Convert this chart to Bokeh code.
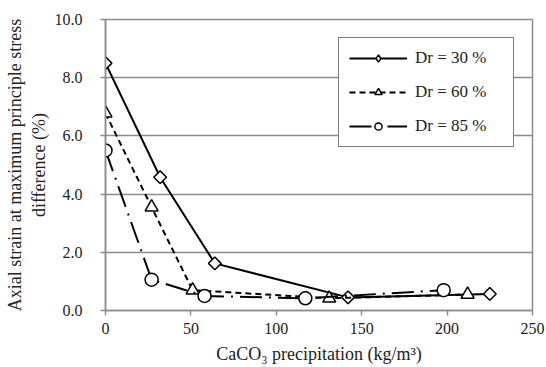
import numpy as np
from bokeh.plotting import figure
from bokeh.models import Legend, LegendItem, NumeralTickFormatter, FixedTicker, Range1d
from bokeh.embed import file_html
from bokeh.resources import INLINE

x30 = [0, 32, 64, 142, 225]
y30 = [8.5, 4.58, 1.62, 0.45, 0.57]
x60 = [0, 27, 51, 131, 212]
y60 = [6.78, 3.55, 0.7, 0.42, 0.55]
x85 = [0, 27, 58, 117, 198]
y85 = [5.5, 1.06, 0.5, 0.42, 0.7]
labels = ["Dr = 30 %", "Dr = 60 %", "Dr = 85 %"]
xticks = [0, 50, 100, 150, 200, 250]
yticks = [0, 2, 4, 6, 8, 10]

FONT = "'Liberation Serif', 'DejaVu Serif', serif"

p = figure(width=546, height=367, output_backend="svg", toolbar_location=None,
           x_range=Range1d(0, 250), y_range=Range1d(0, 10),
           min_border_left=105, min_border_right=14, min_border_top=19, min_border_bottom=57)
p.background_fill_color = "white"
p.border_fill_color = "white"
p.outline_line_color = "#8c8c8c"
p.outline_line_width = 1.5

p.xgrid.grid_line_color = None
p.ygrid.grid_line_color = "#8c8c8c"
p.ygrid.grid_line_width = 1.5
p.ygrid.ticker = FixedTicker(ticks=yticks)

p.xaxis.ticker = FixedTicker(ticks=xticks)
p.yaxis.ticker = FixedTicker(ticks=yticks)
p.yaxis.formatter = NumeralTickFormatter(format="0.0")
for ax in (p.xaxis, p.yaxis):
    ax.axis_line_color = "#8c8c8c"
    ax.axis_line_width = 1.5
    ax.major_tick_line_color = "#8c8c8c"
    ax.major_tick_line_width = 1.5
    ax.major_tick_in = 0
    ax.major_tick_out = 5
    ax.minor_tick_line_color = None
    ax.major_label_text_font = FONT
    ax.major_label_text_font_size = "16px"
    ax.major_label_text_color = "#222222"
    ax.axis_label_text_font = FONT
    ax.axis_label_text_font_size = "18px"
    ax.axis_label_text_font_style = "normal"
    ax.axis_label_text_color = "#222222"

p.xaxis.axis_label = "CaCO\u2083 precipitation (kg/m\u00b3)"
p.yaxis.axis_label = "Axial strain at maximum principle stress\ndifference (%)"
p.xaxis.major_label_standoff = 7
p.yaxis.major_label_standoff = 18
p.xaxis.axis_label_standoff = 7
p.yaxis.axis_label_standoff = 3

l1 = p.line(x30, y30, line_color="black", line_width=2)
m1 = p.scatter(x30, y30, marker="square", angle=np.pi / 4, size=9,
               fill_color="white", line_color="black", line_width=1.5)
l2 = p.line(x60, y60, line_color="black", line_width=2, line_dash="6 4")
m2 = p.scatter(x60, y60, marker="triangle", size=13,
               fill_color="white", line_color="black", line_width=1.5)
l3 = p.line(x85, y85, line_color="black", line_width=2, line_dash="22 7 2 7")
m3 = p.scatter(x85, y85, marker="circle", size=13,
               fill_color="white", line_color="black", line_width=1.5)
# legend-only diamond marker (no data drawn)
d1 = p.scatter([np.nan], [np.nan], marker="diamond", size=14,
               fill_color="white", line_color="black", line_width=1.5)

legend = Legend(items=[
    LegendItem(label=labels[0], renderers=[l1, d1]),
    LegendItem(label=labels[1], renderers=[l2, m2]),
    LegendItem(label=labels[2], renderers=[l3, m3]),
], location="top_right")
legend.margin = 18
legend.border_line_color = "black"
legend.border_line_width = 1.5
legend.background_fill_color = "white"
legend.background_fill_alpha = 1
legend.label_text_font = FONT
legend.label_text_font_size = "17px"
legend.label_text_color = "#222222"
legend.glyph_width = 58
legend.glyph_height = 18
legend.label_height = 18
legend.label_width = 88
legend.spacing = 14
legend.padding = 10
legend.label_standoff = 8
p.add_layout(legend)

open("out.html", "w").write(file_html(p, INLINE))
